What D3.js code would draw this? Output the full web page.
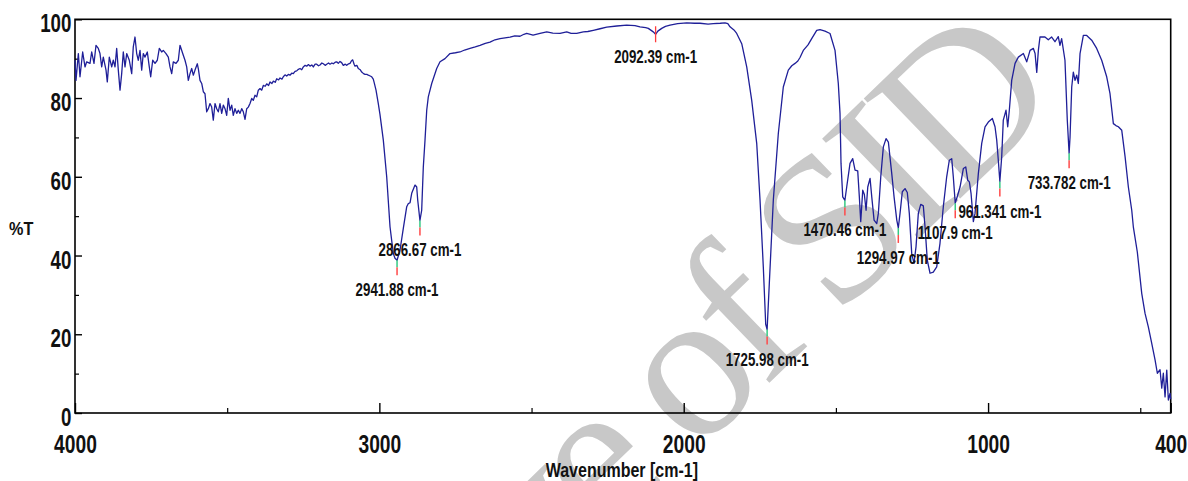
<!DOCTYPE html>
<html><head><meta charset="utf-8">
<script src="https://cdn.jsdelivr.net/npm/d3@7"></script>
<style>body{margin:0;background:#fff}svg{display:block}</style>
</head><body>
<svg id="c" width="1188" height="481"></svg>
<script>
// ---- data: [wavenumber cm-1, %T] ----
const specOH = [[4000,89.6],[3996.7,84.5],[3989,91.3],[3983.6,85.4],[3974.8,91.7],[3967.1,87.9],[3961.6,89.2],[3950.7,88.8],[3945.2,91.7],[3937.6,88.8],[3931,93.4],[3923.4,92.6],[3917.9,91.3],[3912.3,87.9],[3907,90.4],[3898.1,87.1],[3893.9,84.1],[3887.3,90.4],[3879.4,87.9],[3874.2,89.6],[3868.6,87.9],[3863,92.6],[3857.7,87.1],[3852.1,82.0],[3846.6,86.2],[3841.3,91.7],[3835.7,87.9],[3830.1,91.3],[3821.6,89.6],[3813.7,86.2],[3808.5,93.0],[3802.9,95.5],[3797.3,91.3],[3792,89.6],[3786.4,92.1],[3780.9,87.1],[3775.6,91.3],[3770,90.4],[3762.4,91.7],[3755.9,87.9],[3751.3,85.4],[3744.7,89.6],[3737.1,88.8],[3729.6,89.6],[3723,92.6],[3715.1,91.7],[3709.9,92.1],[3701,91.3],[3693.4,90.4],[3687.9,87.9],[3682.3,86.2],[3677,89.2],[3668.1,88.8],[3660.6,89.6],[3655,93.4],[3646.1,91.3],[3638.6,89.6],[3633,87.9],[3627.7,84.5],[3622.1,86.2],[3616.6,87.5],[3611.3,85.8],[3605.7,87.1],[3598.1,88.7],[3594.9,87.5],[3589.3,84.5],[3583.7,83.7],[3578.4,81.6],[3572.9,81.1],
[3567.3,76.5],[3562,77.3],[3556.4,78.6],[3550.9,77.7],[3545.6,74.4],[3540,78.6],[3534.4,77.3],[3529.2,76.5],[3523.6,78.6],[3518,76.1],[3512.7,78.2],[3507.1,77.3],[3501.6,75.6],[3496.3,79.9],[3490.7,76.9],[3485.1,78.2],[3479.9,75.6],[3474.3,77.3],[3468.7,76.1],[3463.4,76.9],[3457.9,76.1],[3452.3,77.3],[3447,76.5],[3441.4,74.6],[3435.8,77.3],[3430.6,77.7],[3425,78.6],[3419.4,79.9],[3414.2,79.4],[3408.6,80.7],[3403,80.3],[3397.7,82.0],[3392.1,82.4],[3386.6,82.0],[3381.3,83.2]];
const specPlateau = [[3375,83.0],[3370.2,83.6],[3364,83.2],[3359.3,84.1],[3353,83.7],[3348.4,84.3],[3342,84.0],[3337.3,84.9],[3331,84.6],[3326.4,85.1],[3320,84.8],[3315.6,85.4],[3310,85.9],[3304.4,85.6],[3299,86.0],[3293.6,85.8],[3288,86.3],[3282.8,86.2],[3277,86.8],[3271.6,86.9],[3266,87.3],[3260.7,87.5],[3255,87.2],[3249.9,87.9],[3244,88.3],[3238.7,88.1],[3233,88.5],[3227.9,88.1],[3222,88.4],[3217,87.9],[3211,88.6],[3205.9,88.6],[3200,88.2],[3195,88.4],[3189,88.9],[3184.2,88.7],[3178,88.3],[3173,88.6],[3167,88.9],[3162.1,88.6],[3156,88.9],[3151.3,88.7],[3145,89.1],[3140.2,89.2],[3135,88.8],[3129.3,89.3],[3124,89.0],[3118.5,88.3],[3112,88.6],[3107.3,88.3],[3101,88.7],[3096.4,88.8],[3092,89.4],[3087.6,89.7],[3083,88.6],[3080,88.1],[3074,88.3],[3069.2,87.5],[3063,87.2],[3058,86.6],[3052,86.2],[3047.1,86.0],[3041,86.0],[3036.3,85.8],[3030,85.6],[3025.1,85.4],[3020,84.8],[3017.6,84.1],[3011,82.0],[3003.5,78.6],[2997.9,75.8]];
const specCH = [[2987.0,69.3],[2975.9,60.0],[2965.0,47.3],[2954.2,40.5],[2948.6,39.3],[2941.88,38.8],[2932.1,41.4],[2921.3,46.9],[2910.1,52.4],[2904.8,53.2],[2899.3,53.4],[2893.7,55.8],[2882.9,57.9],[2877.3,57.4],[2874.0,54.1],[2866.67,48.9],[2860.9,51.5],[2855.6,62.5],[2850.0,69.3],[2844.4,76.9],[2839.2,80.3],[2828.0,83.7],[2811.6,87.5],[2800.7,89.2],[2784.3,90.0],[2767.9,91.3]];
const specTop = [[2750,91.5],[2735.0,91.7],[2720,92.2],[2702.1,92.6],[2685,93.0],[2669.3,93.4],[2652,93.9],[2636.4,94.2],[2620,94.8],[2603.6,95.1],[2587,95.3],[2570.7,95.5],[2555,95.8],[2537.9,95.7],[2525,96.2],[2515.9,96.4],[2495,96.0],[2472.1,96.4],[2450.1,96.8],[2430,96.5],[2406.4,96.4],[2384.4,96.8],[2370,96.4],[2351.6,96.4],[2329.9,96.8],[2315,96.9],[2297.0,97.2],[2275,97.6],[2253.0,98.0],[2220,98.3],[2187.3,98.5],[2160,98.4],[2143.6,98.1],[2125,97.9],[2116.3,97.7],[2100,96.8],[2092.39,96.2],[2085,97.0],[2072.3,97.7],[2060,98.2],[2045.0,98.5],[2020,98.9],[1990.1,99.1],[1965,99.0],[1946.4,99.0],[1920,98.8],[1902.7,98.9],[1880,99.0],[1864.3,99.1],[1855,98.9],[1847.9,98.1],[1835,97.3],[1825.9,96.4],[1809.4,93.8],[1793.0,87.9]];
const specCO = [[1776.6,79.4],[1760.2,68.5],[1749.3,54.1],[1738.5,37.1],[1730.6,22.5],[1725.98,21.2],[1718.8,32.9],[1705.6,54.1],[1689.2,71.0],[1672.8,82.8],[1656.4,87.1],[1645,88.2],[1634.3,88.8],[1625,89.4],[1617.9,90.3],[1607.1,92.1],[1591.6,93.5],[1579.5,95.1],[1563.1,97.2],[1552.2,97.4],[1535.8,97.0],[1519.3,96.4],[1502.9,92.1],[1492.1,83.7],[1486.5,76.1]];
const specFinger = [[1483.2,63.4],[1477.6,54.9],[1470.46,54.0],[1464.5,57.4],[1453.6,63.4],[1444.8,64.6],[1437.1,61.7],[1428.3,61.5],[1423.0,54.9],[1418.4,48.6],[1411.8,56.6],[1406.5,55.5],[1400.9,51.5],[1395.3,57.4],[1387.8,59.6],[1382.2,54.9],[1374.6,49.0],[1365.8,48.1],[1360.5,50.7],[1352.6,60.0],[1344.1,67.6],[1335.2,69.7],[1327.6,68.8],[1316.5,60.8],[1308.9,54.9],[1300.0,49.0],[1294.97,47.0],[1289.3,50.7],[1281.8,56.2],[1272.9,57.0],[1265.4,56.0],[1258.8,50.7],[1250.9,40.5],[1243.4,38.0],[1236.8,42.2],[1229.2,50.7],[1221.3,53.0],[1212.8,52.6],[1207.2,47.3],[1199.7,38.8],[1190.8,35.5],[1180.0,35.8],[1168.8,37.1],[1158.0,43.1],[1147.1,52.4],[1136.0,60.0],[1127.4,64.2],[1119.5,64.6],[1114.3,60.0],[1107.9,53.3],[1101.2,55.0],[1092.1,57.4],[1081.3,62.1],[1073.4,62.5],[1066.8,59.1],[1061.5,58.7],[1056.0,55.8],[1048.4,48.6],[1042.9,50.7],[1032.0,60.8],[1020.9,68.5],[1010.0,72.7],[999.2,73.9],[986.0,74.8]];
const specLow = [[977.2,72.7],[971.6,69.3],[966.4,64.2],[961.341,58.8],[955.2,65.1],[950.0,74.4],[941.1,76.9],[935.5,72.7],[930.2,76.9],[922.4,84.5],[911.4,88.8],[900.6,90.4],[884.1,91.3],[873.0,89.2],[862.1,92.1],[851.2,92.6],[845.6,91.3],[840.1,86.5],[834.8,92.1],[829.5,95.5],[813.1,95.5],[802.2,94.8],[791.1,95.5],[780.2,94.3],[769.4,95.6],[763.8,93.4],[758.3,95.1],[747.4,89.6],[739.8,74.4],[733.782,66.0],[730.7,70.1],[725.2,82.8],[719.9,86.6],[714.3,84.5],[708.8,85.8],[703.5,83.7],[697.9,91.3],[687,95.9],[676,95.9],[659.6,94.7],[643.2,92.6],[626.7,89.6],[610.3,85.4],[599.4,81.1],[588.4,73.5],[580,73.0],[572,72.7],[560.8,71.8],[549.9,65.1],[539.1,57.4],[528,51.5],[522.8,47.3],[509.7,40.9],[495.2,30.4],[484.3,25.3],[473.5,21.9],[462.3,17.7],[451.4,13.5],[443.9,10.1],[435.0,11.0],[429.4,6.3],[424.2,10.1],[418.6,4.1],[413.0,10.9],[407.7,3.3],[402.1,5.0],[400,3.5]];

const xMajorTicks = [4000,3000,2000,1000,400];
const xMinorTicks = [3500,2500,1500,500];
const yMajorTicks = [0,20,40,60,80,100];
const yMinorTicks = [10,30,50,70,90];
const peakWn = [2092.39,2866.67,2941.88,1725.98,1470.46,1294.97,1107.9,961.341,733.782];
const peakT = [96.2,48.9,38.8,21.2,54.0,47.0,53.3,58.8,66.0];
const peakLabels = ["2092.39 cm-1","2866.67 cm-1","2941.88 cm-1","1725.98 cm-1","1470.46 cm-1","1294.97 cm-1","1107.9 cm-1","961.341 cm-1","733.782 cm-1"];
const xTitle = "Wavenumber [cm-1]";
const yTitle = "%T";
const watermarkText = "Archive of SID";

// ---- drawing ----
const svg = d3.select("#c");
const x = d3.scaleLinear().domain([4000,400]).range([75,1170.7]);
const y = d3.scaleLinear().domain([0,100]).range([413,19.3]);
const SANS = "'Liberation Sans', Arial, sans-serif";

// watermark (behind)
svg.append("text")
  .attr("transform","translate(1058,104) rotate(-44)")
  .attr("text-anchor","end")
  .attr("font-family","'Liberation Serif','Times New Roman',serif")
  .attr("font-size",212)
  .attr("letter-spacing",-11)
  .attr("fill","#c8c8c8")
  .text(watermarkText);

// axes
const gx = svg.append("g").attr("transform",`translate(0,${y(0)})`)
  .call(d3.axisBottom(x).tickValues(xMajorTicks).tickSizeInner(-10).tickSizeOuter(0).tickPadding(0).tickFormat(d3.format("d")));
gx.select(".domain").remove();
gx.selectAll("line").attr("stroke","#000").attr("stroke-width",1.4);
gx.selectAll("text").attr("y",40).attr("dy",null)
  .attr("font-family",SANS).attr("font-weight","bold").attr("font-size",26).attr("fill","#111")
  .attr("transform","scale(0.74,1)");

const gxm = svg.append("g").attr("transform",`translate(0,${y(0)})`)
  .call(d3.axisBottom(x).tickValues(xMinorTicks).tickSizeInner(-5).tickSizeOuter(0).tickFormat(""));
gxm.select(".domain").remove();
gxm.selectAll("line").attr("stroke","#000").attr("stroke-width",1.2);

const gy = svg.append("g").attr("transform",`translate(${x(4000)},0)`)
  .call(d3.axisLeft(y).tickValues(yMajorTicks).tickSizeInner(-7).tickSizeOuter(0).tickPadding(5));
gy.select(".domain").remove();
gy.selectAll("line").attr("stroke","#000").attr("stroke-width",1.4);
gy.selectAll("text").attr("x",-5).attr("y",12.5).attr("dy",null)
  .attr("font-family",SANS).attr("font-weight","bold").attr("font-size",26).attr("fill","#111")
  .attr("transform","scale(0.72,1)");

const gym = svg.append("g").attr("transform",`translate(${x(4000)},0)`)
  .call(d3.axisLeft(y).tickValues(yMinorTicks).tickSizeInner(-4).tickSizeOuter(0).tickFormat(""));
gym.select(".domain").remove();
gym.selectAll("line").attr("stroke","#000").attr("stroke-width",1.2);

// frame
svg.append("rect").attr("x",x(4000)).attr("y",y(100))
  .attr("width",x(400)-x(4000)).attr("height",y(0)-y(100))
  .attr("fill","none").attr("stroke","#000").attr("stroke-width",1.6);

// spectrum
const spectrum = [].concat(specOH, specPlateau, specCH, specTop, specCO, specFinger, specLow);
svg.append("path").datum(spectrum)
  .attr("d", d3.line().x(d=>x(d[0])).y(d=>y(d[1])))
  .attr("fill","none").attr("stroke","#1f1f98").attr("stroke-width",1.3).attr("stroke-linejoin","round");

// peak markers + labels
peakWn.forEach((w,i)=>{
  const px = x(w), py = y(peakT[i]);
  let bottom;
  if (i === 0) {
    svg.append("line").attr("x1",px).attr("x2",px).attr("y1",py-8).attr("y2",py+8).attr("stroke","#ff3b3b").attr("stroke-width",1.3);
    bottom = py + 8;
  } else {
    svg.append("line").attr("x1",px).attr("x2",px).attr("y1",py).attr("y2",py+7).attr("stroke","#35c983").attr("stroke-width",1.5);
    svg.append("line").attr("x1",px).attr("x2",px).attr("y1",py+7).attr("y2",py+15).attr("stroke","#ff4a4a").attr("stroke-width",1.5);
    bottom = py + 15;
  }
  svg.append("text")
    .attr("transform",`translate(${px},${bottom+21}) scale(0.72,1)`)
    .attr("text-anchor","middle")
    .attr("font-family",SANS).attr("font-weight","bold").attr("font-size",18.5).attr("fill","#111")
    .text(peakLabels[i]);
});

// axis titles
svg.append("text").attr("transform","translate(9,235) scale(0.9,1)")
  .attr("font-family",SANS).attr("font-weight","bold").attr("font-size",18).attr("fill","#111").text(yTitle);
svg.append("text").attr("transform",`translate(${(x(4000)+x(400))/2-1},477) scale(0.8,1)`)
  .attr("text-anchor","middle")
  .attr("font-family",SANS).attr("font-weight","bold").attr("font-size",20).attr("fill","#111").text(xTitle);
</script>
</body></html>
